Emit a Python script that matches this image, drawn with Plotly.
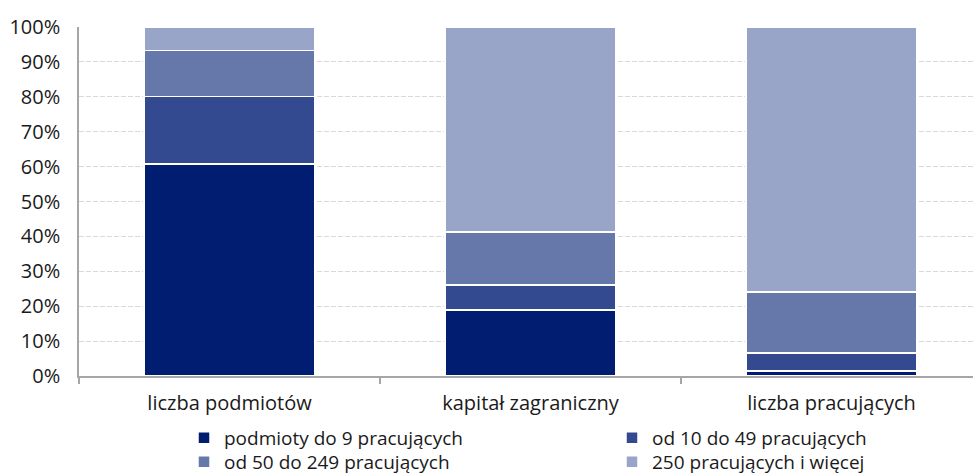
import plotly.graph_objects as go

categories = ["liczba podmiotów", "kapitał zagraniczny", "liczba pracujących"]
series_names = ["podmioty do 9 pracujących", "od 10 do 49 pracujących",
                "od 50 do 249 pracujących", "250 pracujących i więcej"]
s1 = [60.7, 18.9, 1.4]
s2 = [19.4, 7.2, 5.2]
s3 = [13.2, 15.2, 17.4]
s4 = [6.7, 58.7, 76.0]
colors = ["#001d72", "#334a91", "#6677aa", "#99a5c8"]
legend_ids = ["legend", "legend2", "legend3", "legend4"]
y_ticks = [0, 10, 20, 30, 40, 50, 60, 70, 80, 90, 100]
y_labels = [f"{v}%" for v in y_ticks]

font_family = "'Open Sans', sans-serif"

fig = go.Figure()
for name, vals, col, lg in zip(series_names, [s1, s2, s3, s4], colors, legend_ids):
    fig.add_trace(go.Bar(
        x=categories, y=vals, name=name, legend=lg, showlegend=True,
        marker=dict(color=col, line=dict(color="white", width=1.5)),
    ))

W, H = 973, 474
legend_common = dict(
    orientation="h", xref="container", yref="container",
    xanchor="left", yanchor="middle", itemwidth=30,
    font=dict(family=font_family, size=19, color="#1a1a1a"),
    bgcolor="rgba(0,0,0,0)", borderwidth=0,
)
col_x = [184, 612]
row_y = [438, 462]

fig.update_layout(
    showlegend=True,
    barmode="stack",
    bargap=0.432,
    width=W, height=H,
    margin=dict(l=79, r=0, t=27, b=98, autoexpand=False),
    paper_bgcolor="white", plot_bgcolor="white",
    font=dict(family=font_family, size=20, color="#1a1a1a"),
    legend=dict(x=col_x[0] / W, y=1 - row_y[0] / H, **legend_common),
    legend2=dict(x=col_x[1] / W, y=1 - row_y[0] / H, **legend_common),
    legend3=dict(x=col_x[0] / W, y=1 - row_y[1] / H, **legend_common),
    legend4=dict(x=col_x[1] / W, y=1 - row_y[1] / H, **legend_common),
    xaxis=dict(
        range=[-0.5, 2.47], automargin=False,
        showline=True, linecolor="#a6a6a6", linewidth=1.5,
        ticks="outside", tickson="boundaries", ticklen=6, tickcolor="#a6a6a6",
        tickwidth=1.5, showgrid=False, ticklabelstandoff=8,
        tickfont=dict(size=20),
    ),
    yaxis=dict(
        range=[0, 100], tickvals=y_ticks, ticktext=y_labels, automargin=False,
        showline=True, linecolor="#a6a6a6", linewidth=1.5,
        showgrid=True, gridcolor="#d9d9d9", griddash="5px,2px", gridwidth=1,
        ticks="", ticklabelstandoff=13, zeroline=False,
        tickfont=dict(size=20),
    ),
)

fig.write_html(
    "out.html",
    config={"displayModeBar": False},
    post_script="document.body.style.margin='0';document.body.style.overflow='hidden';",
)
